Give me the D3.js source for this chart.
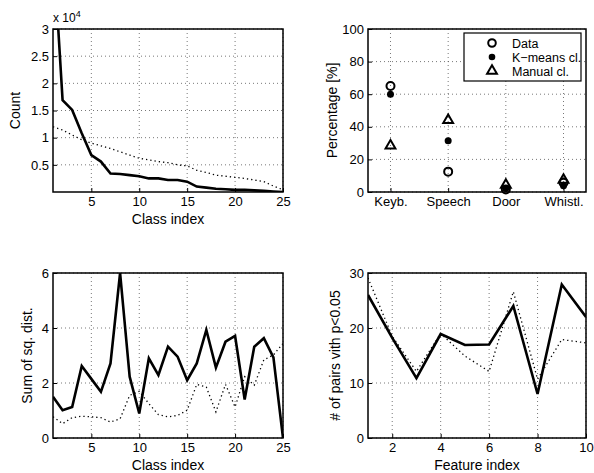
<!DOCTYPE html>
<html>
<head>
<meta charset="utf-8">
<script src="https://cdn.jsdelivr.net/npm/d3@7"></script>
<style>
  body { margin: 0; background: #fff; }
  text { font-family: "Liberation Sans", Arial, sans-serif; fill: #000; }
</style>
</head>
<body>
<svg id="fig" width="594" height="473"></svg>
<script>
// class index 1..25
var classIdx = d3.range(1, 26);
// panel 1: counts (x 10^4)
var countSolid = [4.6, 1.69, 1.51, 1.08, 0.68, 0.56, 0.34, 0.33, 0.31, 0.29, 0.25, 0.25, 0.22, 0.22, 0.19, 0.1, 0.08, 0.06, 0.05, 0.04, 0.04, 0.03, 0.02, 0.01, 0.0];
var countDotted = [1.2, 1.14, 1.05, 0.96, 0.9, 0.85, 0.8, 0.74, 0.68, 0.62, 0.59, 0.56, 0.54, 0.5, 0.48, 0.4, 0.36, 0.31, 0.29, 0.27, 0.25, 0.22, 0.19, 0.11, 0.04];
// panel 2: percentages per category
var categories = ["Keyb.", "Speech", "Door", "Whistl."];
var pctData = [65, 12.5, 1.6, 5.7];
var pctKmeans = [60, 31.5, 2.2, 3.9];
var pctManual = [28.4, 44, 4.3, 7.4];
var legendLabels = ["Data", "K\u2212means cl.", "Manual cl."];
// panel 3: sum of squared distances
var ssdSolid = [1.5, 1.01, 1.13, 2.62, 2.15, 1.68, 2.71, 6.0, 2.23, 0.89, 2.9, 2.29, 3.32, 2.96, 2.1, 2.71, 3.93, 2.56, 3.5, 3.71, 1.4, 3.32, 3.63, 2.93, 0.0];
var ssdDotted = [0.77, 0.52, 0.74, 0.79, 0.77, 0.74, 0.58, 0.7, 1.55, 1.7, 1.25, 0.85, 0.77, 0.82, 1.01, 1.95, 1.85, 0.95, 1.95, 1.13, 2.23, 1.92, 2.84, 3.02, 3.44];
// panel 4: pairs with p<0.05 per feature
var featIdx = d3.range(1, 11);
var pairsSolid = [26, 18.2, 10.9, 18.9, 16.9, 17, 24, 8, 27.9, 22];
var pairsDotted = [29.1, 18.5, 12.1, 19, 14.9, 12.1, 26.6, 10.7, 17.9, 17.3];

var svg = d3.select("#fig");

function panel(id, x0, x1, y0, y1, xDomain, yDomain, xTicks, yTicks, xFmt, yFmt) {
  var x = d3.scaleLinear().domain(xDomain).range([x0, x1]);
  var y = d3.scaleLinear().domain(yDomain).range([y1, y0]);
  var g = svg.append("g");

  svg.append("clipPath").attr("id", "clip" + id)
    .append("rect").attr("x", x0).attr("y", y0).attr("width", x1 - x0).attr("height", y1 - y0);

  // grid
  g.append("g").selectAll("line").data(xTicks).enter().append("line")
    .attr("x1", d => x(d)).attr("x2", d => x(d)).attr("y1", y0).attr("y2", y1)
    .attr("stroke", "#555").attr("stroke-width", 0.8).attr("stroke-dasharray", "1,3");
  g.append("g").selectAll("line").data(yTicks).enter().append("line")
    .attr("y1", d => y(d)).attr("y2", d => y(d)).attr("x1", x0).attr("x2", x1)
    .attr("stroke", "#555").attr("stroke-width", 0.8).attr("stroke-dasharray", "1,3");

  var xa = g.append("g").attr("transform", "translate(0," + y1 + ")")
    .call(d3.axisBottom(x).tickValues(xTicks).tickSize(-4).tickPadding(5).tickFormat(xFmt));
  var ya = g.append("g").attr("transform", "translate(" + x0 + ",0)")
    .call(d3.axisLeft(y).tickValues(yTicks).tickSize(-4).tickPadding(4).tickFormat(yFmt));
  [xa, ya].forEach(a => {
    a.select(".domain").remove();
    a.selectAll("text").style("font-size", "13px").attr("fill", "#000");
    a.selectAll("line").attr("stroke", "#000");
  });

  g.append("rect").attr("x", x0).attr("y", y0).attr("width", x1 - x0).attr("height", y1 - y0)
    .attr("fill", "none").attr("stroke", "#000").attr("stroke-width", 1.5);

  return {x: x, y: y, g: g, clip: "url(#clip" + id + ")"};
}

function drawLine(p, xs, ys, dotted) {
  var line = d3.line().x((d, i) => p.x(xs[i])).y(d => p.y(d));
  p.g.append("path").datum(ys)
    .attr("clip-path", p.clip)
    .attr("d", line)
    .attr("fill", "none")
    .attr("stroke", "#000")
    .attr("stroke-width", dotted ? 1.3 : 2.6)
    .attr("stroke-linejoin", "miter")
    .attr("stroke-dasharray", dotted ? "1.3,3" : null);
}

function labels(p, xLabel, yLabel, xLabelY, yLabelX) {
  var r = p.x.range(), d = p.y.range();
  svg.append("text").attr("x", (r[0] + r[1]) / 2).attr("y", xLabelY)
    .attr("text-anchor", "middle").style("font-size", "14px").text(xLabel);
  svg.append("text")
    .attr("transform", "translate(" + yLabelX + "," + (d[0] + d[1]) / 2 + ") rotate(-90)")
    .attr("text-anchor", "middle").style("font-size", "14px").text(yLabel);
}

var fmt = d3.format("");

// panel 1
var p1 = panel(1, 53, 283, 29, 192, [1, 25], [0, 3], [5, 10, 15, 20, 25], [0.5, 1, 1.5, 2, 2.5, 3], fmt, fmt);
drawLine(p1, classIdx, countDotted, true);
drawLine(p1, classIdx, countSolid, false);
labels(p1, "Class index", "Count", 224, 20);
var ex = svg.append("text").attr("x", 53).attr("y", 22).style("font-size", "12px");
ex.append("tspan").text("x 10");
ex.append("tspan").attr("dy", -5).style("font-size", "9px").text("4");

// panel 2
var p2 = panel(2, 368, 586, 29, 192, [0.61, 4.39], [0, 100], [1, 2, 3, 4], [0, 20, 40, 60, 80, 100],
  d => categories[d - 1], fmt);
var catX = categories.map((c, i) => i + 1);
var tri = d3.symbol().type(d3.symbolTriangle).size(42);
p2.g.append("g").selectAll("path").data(pctManual).enter().append("path")
  .attr("d", tri).attr("transform", (d, i) => "translate(" + p2.x(catX[i]) + "," + p2.y(d) + ")")
  .attr("fill", "none").attr("stroke", "#000").attr("stroke-width", 2);
p2.g.append("g").selectAll("circle").data(pctData).enter().append("circle")
  .attr("cx", (d, i) => p2.x(catX[i])).attr("cy", d => p2.y(d)).attr("r", 4)
  .attr("fill", "none").attr("stroke", "#000").attr("stroke-width", 2);
p2.g.append("g").selectAll("circle").data(pctKmeans).enter().append("circle")
  .attr("cx", (d, i) => p2.x(catX[i])).attr("cy", d => p2.y(d)).attr("r", 3.5)
  .attr("fill", "#000");
labels(p2, "", "Percentage [%]", 0, 337);

// legend
var lg = svg.append("g");
lg.append("rect").attr("x", 464).attr("y", 33).attr("width", 117).attr("height", 48)
  .attr("fill", "#fff").attr("stroke", "#000").attr("stroke-width", 1.2);
var ly = [43, 57, 71];
lg.append("circle").attr("cx", 492).attr("cy", ly[0]).attr("r", 3.8)
  .attr("fill", "none").attr("stroke", "#000").attr("stroke-width", 2);
lg.append("circle").attr("cx", 492).attr("cy", ly[1]).attr("r", 3.3).attr("fill", "#000");
lg.append("path").attr("d", tri).attr("transform", "translate(492," + ly[2] + ")")
  .attr("fill", "none").attr("stroke", "#000").attr("stroke-width", 2);
lg.selectAll("text").data(legendLabels).enter().append("text")
  .attr("x", 512).attr("y", (d, i) => ly[i] + 4.5).style("font-size", "12.5px").text(d => d);

// panel 3
var p3 = panel(3, 53, 283, 273, 438, [1, 25], [0, 6], [5, 10, 15, 20, 25], [0, 2, 4, 6], fmt, fmt);
drawLine(p3, classIdx, ssdDotted, true);
drawLine(p3, classIdx, ssdSolid, false);
labels(p3, "Class index", "Sum of sq. dist.", 470, 32);

// panel 4
var p4 = panel(4, 368, 586, 273, 438, [1, 10], [0, 30], [2, 4, 6, 8, 10], [0, 10, 20, 30], fmt, fmt);
drawLine(p4, featIdx, pairsDotted, true);
drawLine(p4, featIdx, pairsSolid, false);
labels(p4, "Feature index", "# of pairs vith p<0.05", 470, 340);
</script>
</body>
</html>
